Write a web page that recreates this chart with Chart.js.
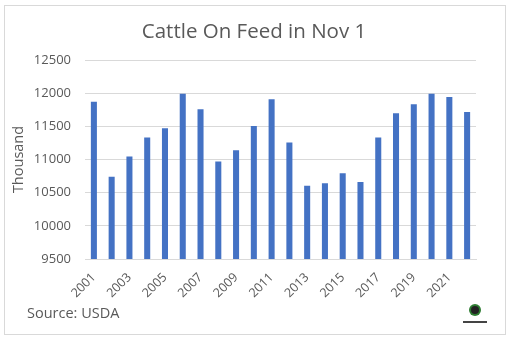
<!DOCTYPE html>
<html><head><meta charset="utf-8">
<script src="https://cdn.jsdelivr.net/npm/chart.js@4"></script>
<style>
html,body{margin:0;padding:0;background:#fff;}
#wrap{position:relative;width:513px;height:341px;}
#frame{position:absolute;left:4px;top:5px;width:502px;height:330px;border:1px solid #d9d9d9;box-sizing:border-box;}
canvas{position:absolute;left:0;top:0;}
</style></head><body>
<div id="wrap"><div id="frame"></div><canvas id="c" width="513" height="341"></canvas></div>
<script>
const chartTitle = 'Cattle On Feed in Nov 1';
const sourceNote = 'Source: USDA';
const categories = ["2001","2002","2003","2004","2005","2006","2007","2008","2009","2010","2011","2012","2013","2014","2015","2016","2017","2018","2019","2020","2021","2022"];
const values = [11870,10740,11045,11333,11470,11990,11758,10970,11141,11505,11909,11258,10606,10641,10792,10661,11333,11697,11833,11990,11944,11717];
const yTicks = [9500,10000,10500,11000,11500,12000,12500];

const extras = {
  id:'extras',
  afterDraw(chart){
    const ctx = chart.ctx;
    ctx.save();
    ctx.fillStyle='#595959';
    ctx.textBaseline='middle';
    ctx.textAlign='center';
    ctx.font='20.5px "Open Sans"';
    ctx.fillText(chartTitle,254,32);
    ctx.textAlign='left';
    ctx.font='14.5px "Open Sans"';
    ctx.fillText(sourceNote,27,314);
    // small logo
    ctx.beginPath();ctx.arc(475,310,6,0,Math.PI*2);ctx.fillStyle='#2e7d32';ctx.fill();
    ctx.beginPath();ctx.arc(475,310,4,0,Math.PI*2);ctx.fillStyle='#222';ctx.fill();
    ctx.fillStyle='#444';ctx.fillRect(463,321,24,2);
    ctx.restore();
  }
};

new Chart(document.getElementById('c'),{
  type:'bar',
  data:{labels:categories,datasets:[{data:values,backgroundColor:'#4472C4',borderWidth:0,categoryPercentage:1,barPercentage:0.34}]},
  options:{
    responsive:false,animation:false,
    layout:{padding:{left:10,right:37,top:60,bottom:36}},
    plugins:{legend:{display:false},tooltip:{enabled:false},title:{display:false}},
    scales:{
      x:{
        grid:{display:false,drawTicks:false},
        border:{color:'#d9d9d9'},
        afterCalculateLabelRotation:(s)=>{s.labelRotation=45;},
        afterFit:(s)=>{s.height=46;},
        ticks:{color:'#595959',font:{family:'Open Sans',size:12.5},autoSkip:false,maxRotation:45,minRotation:45,padding:11,
          callback:function(v,i){return i%2===0?categories[i]:'';}}
      },
      y:{
        min:9500,max:12500,
        afterBuildTicks:(s)=>{s.ticks=yTicks.map(v=>({value:v}));},
        afterFit:(s)=>{s.width=75;},
        grid:{color:'#d9d9d9',drawTicks:false},
        border:{display:false},
        ticks:{color:'#595959',font:{family:'Open Sans',size:13},padding:14,callback:(v)=>String(v)},
        title:{display:true,text:'Thousand',color:'#595959',font:{family:'Open Sans',size:14.5},padding:{top:0,bottom:0}}
      }
    }
  },
  plugins:[extras]
});
</script></body></html>
